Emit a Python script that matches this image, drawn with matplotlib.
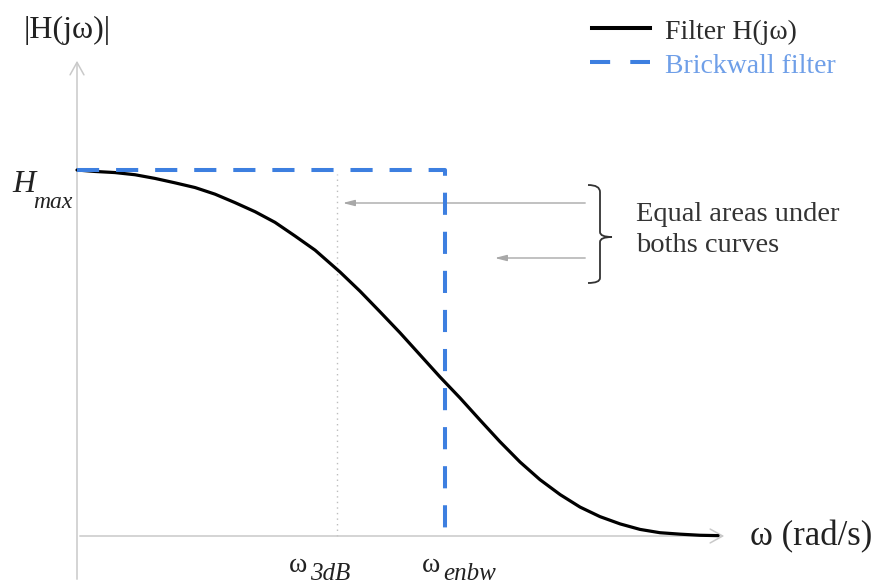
import matplotlib
matplotlib.use("Agg")
import matplotlib.pyplot as plt
from matplotlib.path import Path
from matplotlib.patches import PathPatch

# ---- data (frequency normalised so that w_enbw = 1, magnitude normalised to Hmax = 1)
w_filter = [0.000, 0.049, 0.103, 0.158, 0.212, 0.266, 0.321, 0.375, 0.429, 0.484,
            0.538, 0.592, 0.647, 0.715, 0.769, 0.823, 0.878, 0.932, 0.986, 1.041,
            1.095, 1.149, 1.204, 1.258, 1.313, 1.367, 1.421, 1.476, 1.530, 1.584,
            1.639, 1.693, 1.742]
h_filter = [1.000, 0.996, 0.993, 0.987, 0.977, 0.965, 0.952, 0.934, 0.911, 0.886,
            0.857, 0.820, 0.781, 0.721, 0.669, 0.613, 0.555, 0.495, 0.435, 0.377,
            0.317, 0.258, 0.202, 0.154, 0.113, 0.079, 0.053, 0.033, 0.018, 0.009,
            0.005, 0.002, 0.001]
w_brick = [0.0, 1.0, 1.0]
h_brick = [1.0, 1.0, 0.0]
w_3db = 0.707
w_enbw = 1.0
h_max = 1.0

W, H = 888, 588
fig = plt.figure(figsize=(W / 100, H / 100), dpi=100)
ax = fig.add_axes([0, 0, 1, 1])
# pixel mapping: px = 77 + 368*w ; py = 536 - 366*h
ax.set_xlim(-77 / 368, (W - 77) / 368)
ax.set_ylim(-(H - 536) / 366, 536 / 366)
ax.axis("off")

def px(x):
    return (x - 77) / 368

def py(y):
    return (536 - y) / 366

SERIF = ["Liberation Serif", "DejaVu Serif"]
gray_axis = "#c9c9c9"

# axes arrows
ax.annotate("", xy=(0, py(58)), xytext=(0, py(582)),
            arrowprops=dict(arrowstyle="->,head_length=0.9,head_width=0.5", color=gray_axis, lw=1.1))
ax.annotate("", xy=(px(727), 0), xytext=(0, 0),
            arrowprops=dict(arrowstyle="->,head_length=0.9,head_width=0.5", color=gray_axis, lw=1.1))

# dotted 3dB marker
ax.plot([w_3db, w_3db], [0, h_max * 0.99], color="#bdbdbd", lw=1.0, ls=(0, (1, 3)))

# curves
blue = "#3d7fe0"
ax.plot(w_filter, h_filter, color="black", lw=2.3, solid_capstyle="round",
        solid_joinstyle="round", zorder=3)
ax.plot(w_brick, h_brick, color=blue, lw=2.9, dashes=(5.5, 4.2), zorder=4)

# annotation arrows
arrow_gray = "#a8a8a8"
ax.annotate("", xy=(px(340), py(203)), xytext=(px(588), py(203)),
            arrowprops=dict(arrowstyle="-|>,head_length=0.7,head_width=0.18", color=arrow_gray, lw=1.0))
ax.annotate("", xy=(px(492), py(258)), xytext=(px(588), py(258)),
            arrowprops=dict(arrowstyle="-|>,head_length=0.7,head_width=0.18", color=arrow_gray, lw=1.0))

# brace
verts = [(px(588), py(185)), (px(600), py(185)), (px(600), py(192)),
         (px(600), py(232)), (px(600), py(237)), (px(612), py(237)),
         (px(600), py(237)), (px(600), py(242)),
         (px(600), py(278)), (px(600), py(283)), (px(588), py(283))]
codes = [Path.MOVETO, Path.CURVE3, Path.CURVE3,
         Path.LINETO, Path.CURVE3, Path.CURVE3,
         Path.CURVE3, Path.CURVE3,
         Path.LINETO, Path.CURVE3, Path.CURVE3]
ax.add_patch(PathPatch(Path(verts, codes), fill=False, edgecolor="#333333", lw=1.3))

def t(x, y, s, size, color="#222222", style="normal", **kw):
    fig.text(x / W, 1 - y / H, s, fontsize=size, color=color, family=SERIF,
             style=style, va="baseline", ha="left", **kw)

# labels
t(24, 38, "|H(jω)|", 23)
t(12, 192, "H", 23, style="italic")
t(33, 208, "max", 17, style="italic")
t(750, 545, "ω (rad/s)", 25)
t(289, 572, "ω", 20)
t(310, 580, "3dB", 18, style="italic")
t(422, 572, "ω", 20)
t(443, 580, "enbw", 18, style="italic")
t(636, 221, "Equal areas under", 20.5, color="#333333")
t(636, 252, "boths curves", 20.5, color="#333333")

# legend
ax.plot([px(592), px(650)], [py(28), py(28)], color="black", lw=2.9)
ax.plot([px(590), px(650)], [py(62), py(62)], color=blue, lw=2.9, dashes=(5.0, 5.0))
t(665, 39, "Filter H(jω)", 20, color="#2b2b2b")
t(665, 73, "Brickwall filter", 20, color="#6f9fe8")

fig.savefig("out.png", dpi=100)
